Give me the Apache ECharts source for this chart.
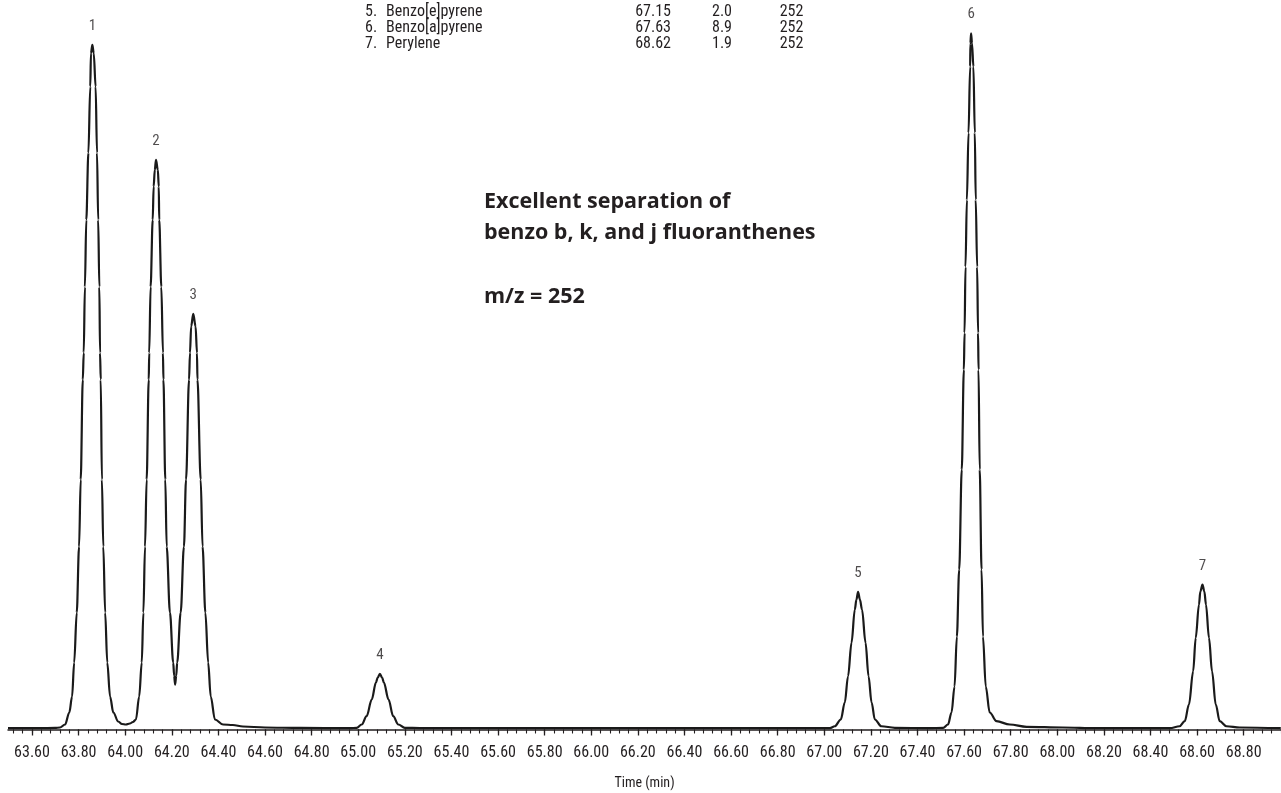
<!DOCTYPE html>
<html>
<head>
<meta charset="utf-8">
<script src="https://cdn.jsdelivr.net/npm/echarts@6/dist/echarts.min.js"></script>
<style>
  html, body { margin: 0; padding: 0; background: #ffffff; }
  #chart { width: 1281px; height: 793px; }
</style>
</head>
<body>
<div id="chart"></div>
<script>
// ---- Chromatogram trace (retention time, min) ----
const TIME = [
  63.497, 63.634, 63.699, 63.720, 63.742, 63.760, 63.772, 63.781, 63.792, 63.802,
  63.809, 63.818, 63.822, 63.827, 63.833, 63.842, 63.850, 63.853, 63.859, 63.865,
  63.873, 63.879, 63.884, 63.889, 63.892, 63.895, 63.900, 63.906, 63.914, 63.923,
  63.935, 63.949, 63.970, 63.986, 64.003, 64.020, 64.033, 64.046, 64.060, 64.071,
  64.078, 64.085, 64.092, 64.101, 64.103, 64.109, 64.118, 64.122, 64.127, 64.132,
  64.140, 64.144, 64.146, 64.155, 64.162, 64.164, 64.172, 64.178, 64.192, 64.206,
  64.210, 64.214, 64.219, 64.223, 64.238, 64.252, 64.261, 64.274, 64.278, 64.283,
  64.292, 64.302, 64.308, 64.310, 64.324, 64.332, 64.344, 64.356, 64.367, 64.385,
  64.420, 64.462, 64.505, 64.600, 64.750, 64.964,
  64.993, 65.015, 65.036, 65.058, 65.076, 65.083, 65.093, 65.103, 65.110, 65.130,
  65.150, 65.172, 65.200, 65.265, 66.037, 67.024,
  67.045, 67.071, 67.088, 67.102, 67.117, 67.131, 67.138, 67.145, 67.153, 67.162,
  67.177, 67.190, 67.203, 67.217, 67.245, 67.303, 67.453,
  67.510, 67.531, 67.546, 67.559, 67.569, 67.579, 67.590, 67.599, 67.602, 67.606,
  67.612, 67.619, 67.626, 67.627, 67.630, 67.634, 67.640, 67.646, 67.650, 67.656,
  67.660, 67.662, 67.667, 67.675, 67.681, 67.693, 67.710, 67.739, 67.796, 67.868,
  68.023, 68.169, 68.483,
  68.525, 68.547, 68.565, 68.583, 68.594, 68.608, 68.614, 68.623, 68.631, 68.638,
  68.651, 68.664, 68.680, 68.697, 68.726, 68.783, 68.959
];
// ---- Relative abundance (%) at each time above ----
const ABUNDANCE = [
  0.19, 0.19, 0.22, 0.29, 0.72, 2.44, 4.74, 9.62, 16.80, 26.27,
  35.89, 50.25, 54.13, 63.60, 73.22, 82.84, 92.35, 97.15, 98.34, 97.15,
  92.35, 82.84, 73.22, 63.60, 54.12, 50.25, 35.89, 26.27, 16.80, 9.62,
  4.74, 2.44, 1.15, 0.79, 0.72, 0.86, 1.08, 1.44, 4.74, 9.62,
  16.80, 26.27, 35.89, 50.25, 54.12, 63.60, 73.22, 78.00, 80.39, 81.83,
  80.39, 78.00, 73.22, 63.60, 54.12, 50.25, 35.89, 26.27, 16.80, 9.62,
  7.75, 6.46, 7.75, 9.62, 16.80, 26.27, 35.89, 50.25, 54.12, 57.90,
  59.72, 57.90, 54.12, 50.25, 35.89, 26.27, 16.80, 9.62, 4.74, 1.44,
  0.72, 0.65, 0.43, 0.29, 0.22, 0.19,
  0.24, 0.72, 1.91, 4.31, 6.75, 7.42, 8.00, 7.42, 6.75, 4.31,
  1.91, 0.72, 0.24, 0.20, 0.19, 0.19,
  0.47, 1.44, 3.88, 7.65, 12.49, 17.23, 18.66, 19.77, 18.66, 17.23,
  12.49, 7.65, 3.88, 1.44, 0.47, 0.24, 0.19,
  0.24, 0.72, 2.44, 6.17, 13.35, 22.97, 37.33, 51.68, 56.99, 66.47,
  76.09, 85.71, 95.22, 98.58, 100.02, 98.58, 95.22, 85.71, 76.09, 66.47,
  56.99, 51.68, 37.33, 22.97, 13.35, 6.17, 2.44, 1.19, 0.72, 0.39,
  0.29, 0.19, 0.19,
  0.47, 1.19, 3.59, 8.37, 13.16, 17.95, 19.85, 20.82, 19.85, 17.95,
  13.16, 8.37, 3.59, 1.19, 0.47, 0.29, 0.19
];

// ---- Peak annotations ----
const PEAK_LABELS = ['1', '2', '3', '4', '5', '6', '7'];
const PEAK_TIME   = [63.859, 64.132, 64.292, 65.093, 67.145, 67.630, 68.623];
const PEAK_HEIGHT = [98.34, 81.83, 59.72, 8.00, 19.77, 100.02, 20.82];

// ---- Compound table (visible rows) ----
const TABLE_NUM  = ['5.', '6.', '7.'];
const TABLE_NAME = ['Benzo[e]pyrene', 'Benzo[a]pyrene', 'Perylene'];
const TABLE_RT   = ['67.15', '67.63', '68.62'];
const TABLE_AREA = ['2.0', '8.9', '1.9'];
const TABLE_MZ   = ['252', '252', '252'];

// ---- Axis tick labels ----
const X_TICK_LABELS = ['63.60','63.80','64.00','64.20','64.40','64.60','64.80','65.00','65.20','65.40',
  '65.60','65.80','66.00','66.20','66.40','66.60','66.80','67.00','67.20','67.40','67.60','67.80',
  '68.00','68.20','68.40','68.60','68.80'];
const X_AXIS_NAME = 'Time (min)';
const ANNOTATION = ['Excellent separation of', 'benzo b, k, and j fluoranthenes', 'm/z = 252'];

const X_MIN = 63.497, X_MAX = 68.96, Y_MAX = 104.8;
const MINOR_STEP = 0.04;
const minorTicks = [];
for (let i = 0; ; i++) {
  const v = Math.round((63.52 + i * MINOR_STEP) * 100) / 100;
  if (v > X_MAX) break;
  minorTicks.push(v);
}
const majorTicks = X_TICK_LABELS.map(Number);

const NARROW = "'Liberation Sans Narrow', 'Roboto Condensed', 'DejaVu Sans Condensed', sans-serif";
const TXT = '#231f20';

const traceData = TIME.map((t, i) => [t, ABUNDANCE[i]]);
const peakData = PEAK_TIME.map((t, i) => ({ value: [t, PEAK_HEIGHT[i]], name: PEAK_LABELS[i] }));

// table + annotation graphics
const graphics = [];
const rowY = [12, 28, 44];
TABLE_NAME.forEach((name, i) => {
  const base = { fontFamily: NARROW, fontSize: 16, fill: TXT, verticalAlign: 'middle' };
  graphics.push({ type: 'text', x: 365, y: rowY[i], style: Object.assign({ text: TABLE_NUM[i], align: 'left' }, base) });
  graphics.push({ type: 'text', x: 386, y: rowY[i], style: Object.assign({ text: name, align: 'left' }, base) });
  graphics.push({ type: 'text', x: 671, y: rowY[i], style: Object.assign({ text: TABLE_RT[i], align: 'right' }, base) });
  graphics.push({ type: 'text', x: 722, y: rowY[i], style: Object.assign({ text: TABLE_AREA[i], align: 'center' }, base) });
  graphics.push({ type: 'text', x: 791.5, y: rowY[i], style: Object.assign({ text: TABLE_MZ[i], align: 'center' }, base) });
});
const annY = [202, 233, 297];
ANNOTATION.forEach((line, i) => {
  graphics.push({ type: 'text', x: 484, y: annY[i], style: {
    text: line, fontFamily: "'Open Sans', sans-serif", fontWeight: 'bold', fontSize: 21.5,
    fill: TXT, align: 'left', verticalAlign: 'middle' } });
});

const chart = echarts.init(document.getElementById('chart'), null, { renderer: 'canvas' });
chart.setOption({
  animation: false,
  backgroundColor: '#ffffff',
  grid: { left: 8, right: 0, top: 0, bottom: 63.5, containLabel: false, outerBoundsMode: 'none' },
  xAxis: [
    {
      type: 'value', min: X_MIN, max: X_MAX,
      name: X_AXIS_NAME, nameLocation: 'middle', nameGap: 47,
      nameTextStyle: { fontFamily: NARROW, fontSize: 14, color: TXT },
      axisLine: { show: true, lineStyle: { color: '#231f20', width: 1.5 } },
      axisTick: { show: true, inside: false, length: 6, customValues: majorTicks, lineStyle: { color: '#231f20', width: 1.3 } },
      axisLabel: { show: true, customValues: majorTicks, margin: 15, formatter: v => v.toFixed(2),
        fontFamily: NARROW, fontSize: 16, color: TXT },
      splitLine: { show: false }
    },
    {
      type: 'value', min: X_MIN, max: X_MAX, position: 'bottom',
      axisLine: { show: false },
      axisTick: { show: true, length: 4, customValues: minorTicks, lineStyle: { color: '#231f20', width: 1.1 } },
      axisLabel: { show: false },
      splitLine: { show: false }
    }
  ],
  yAxis: { type: 'value', min: 0, max: Y_MAX, show: false, splitLine: { show: false } },
  graphic: graphics,
  series: [
    {
      type: 'line', xAxisIndex: 0, data: traceData, showSymbol: false, symbol: 'none',
      smooth: 0.35, smoothMonotone: 'x',
      lineStyle: { color: '#1a1a1a', width: 2.2 }, z: 3
    },
    {
      type: 'scatter', xAxisIndex: 0, data: peakData, symbolSize: 0.1,
      itemStyle: { color: 'transparent' },
      label: { show: true, position: 'top', distance: 11, formatter: p => p.name,
        fontFamily: NARROW, fontSize: 15, color: TXT },
      silent: true, z: 4
    }
  ]
});
</script>
</body>
</html>
